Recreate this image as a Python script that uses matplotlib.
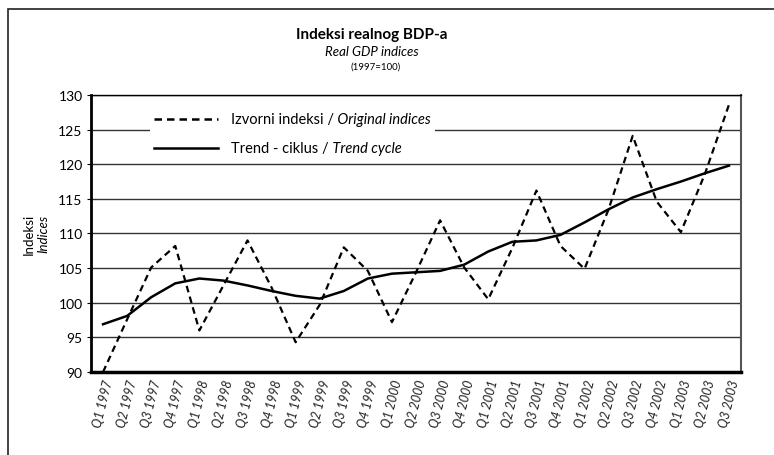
import matplotlib
matplotlib.use("Agg")
import matplotlib.pyplot as plt
from matplotlib.lines import Line2D
from matplotlib.patches import Rectangle
from matplotlib.offsetbox import (AnchoredOffsetbox, DrawingArea, HPacker,
                                  TextArea, VPacker)

plt.rcParams['font.family'] = ['Lato', 'DejaVu Sans']

quarters = ["Q1 1997", "Q2 1997", "Q3 1997", "Q4 1997",
            "Q1 1998", "Q2 1998", "Q3 1998", "Q4 1998",
            "Q1 1999", "Q2 1999", "Q3 1999", "Q4 1999",
            "Q1 2000", "Q2 2000", "Q3 2000", "Q4 2000",
            "Q1 2001", "Q2 2001", "Q3 2001", "Q4 2001",
            "Q1 2002", "Q2 2002", "Q3 2002", "Q4 2002",
            "Q1 2003", "Q2 2003", "Q3 2003"]

original = [90.0, 97.6, 105.1, 108.2, 96.0, 102.5, 109.0, 102.2, 94.3,
            99.7, 108.0, 104.6, 97.2, 104.4, 111.9, 105.1, 100.5, 107.9,
            116.2, 108.2, 104.9, 113.5, 124.1, 114.6, 110.2, 118.6, 128.6]

trend = [96.9, 98.1, 100.8, 102.8, 103.5, 103.2, 102.5, 101.7, 101.0,
         100.6, 101.7, 103.5, 104.2, 104.4, 104.6, 105.5, 107.4, 108.8,
         109.0, 109.8, 111.6, 113.5, 115.2, 116.4, 117.5, 118.7, 119.8]

yticks = [90, 95, 100, 105, 110, 115, 120, 125, 130]

fig = plt.figure(figsize=(7.74, 4.56), dpi=100)
ax = fig.add_axes([0.1176, 0.182, 0.8398, 0.6075])

# outer frame (only top and left edges visible in the original)
fig.patches.append(Rectangle((8 / 774, -0.1), 1.2, 1 - 10 / 456 + 0.1,
                             transform=fig.transFigure, fill=False,
                             edgecolor='#222222', linewidth=1.2))

x = list(range(len(quarters)))
ax.plot(x, original, color='black', linewidth=1.6, linestyle=(0, (3, 2)))
ax.plot(x, trend, color='black', linewidth=1.8)

ax.set_xlim(-0.5, len(quarters) - 0.5)
ax.set_ylim(90, 130)
ax.set_yticks(yticks)
ax.yaxis.grid(True, color='#333333', linewidth=1.0)
ax.set_axisbelow(True)
ax.tick_params(axis='y', length=3, labelsize=10, pad=3)
ax.set_xticks(x)
ax.set_xticklabels(quarters, rotation=76, fontstyle='italic', fontsize=9,
                   ha='center', va='top', color='#222222')
ax.tick_params(axis='x', length=0, pad=4)

ax.spines['left'].set_linewidth(2)
ax.spines['bottom'].set_linewidth(2.5)
ax.spines['top'].set_linewidth(1)
ax.spines['right'].set_linewidth(1.5)
ax.spines['right'].set_color('#555555')

# legend with mixed upright / italic text
def legend_row(style, normal, italic):
    da = DrawingArea(46, 10, 0, 0)
    da.add_artist(Line2D([0, 46], [5, 5], color='black', linewidth=1.8,
                         linestyle=style))
    t1 = TextArea(normal, textprops=dict(fontsize=10.5))
    t2 = TextArea(italic, textprops=dict(fontsize=10.5, fontstyle='italic'))
    texts = HPacker(children=[t1, t2], align='baseline', pad=0, sep=0)
    return HPacker(children=[da, texts], align='center', pad=0, sep=10)

rows = VPacker(children=[
    legend_row((0, (3, 2)), "Izvorni indeksi /", " Original indices"),
    legend_row('-', "Trend - ciklus /", " Trend cycle")],
    align='left', pad=0, sep=11)
leg = AnchoredOffsetbox(loc='upper left', child=rows, pad=0.3, frameon=True,
                        bbox_to_anchor=(0.09, 0.955),
                        bbox_transform=ax.transAxes, borderpad=0)
leg.patch.set_facecolor('white')
leg.patch.set_edgecolor('none')
ax.add_artist(leg)

# titles
fig.text(0.48, 0.923, "Indeksi realnog BDP-a", ha='center', va='center',
         fontsize=11, fontweight='bold')
fig.text(0.48, 0.886, "Real GDP indices", ha='center', va='center',
         fontsize=9.5, fontstyle='italic')
fig.text(0.485, 0.853, "(1997=100)", ha='center', va='center', fontsize=7)

fig.text(0.037, 0.487, "Indeksi", rotation=90, ha='center', va='center',
         fontsize=9.5)
fig.text(0.056, 0.487, "Indices", rotation=90, ha='center', va='center',
         fontsize=9.5, fontstyle='italic')

fig.savefig("out.png", dpi=100)
